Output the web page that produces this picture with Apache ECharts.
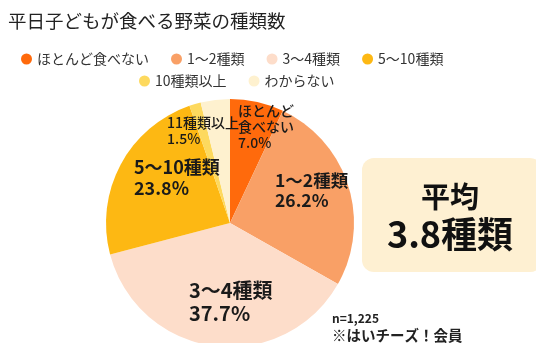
<!DOCTYPE html>
<html>
<head>
<meta charset="utf-8">
<script src="https://cdn.jsdelivr.net/npm/echarts@6/dist/echarts.min.js"></script>
<style>
  html, body { margin: 0; padding: 0; background: #fff; }
  #chart { width: 536px; height: 343px; }
</style>
</head>
<body>
<div id="chart"></div>
<script>
// 平日子どもが食べる野菜の種類数（%）
const categories = ['ほとんど食べない', '1～2種類', '3～4種類', '5～10種類', '10種類以上', 'わからない'];
const sliceLabels = ['ほとんど\n食べない', '1～2種類', '3～4種類', '5～10種類', '11種類以上', ''];
const shares = [7.0, 26.2, 37.7, 23.8, 1.5, 3.8];
const colors = ['#FF6A0C', '#F9A066', '#FDDDCA', '#FDB813', '#FDD95E', '#FEF1CF'];
const averageLines = ['平均', '3.8種類'];
const notes = ['n=1,225', '※はいチーズ！会員'];

const FONT = '"Noto Sans CJK JP", "Noto Sans", sans-serif';

// label styling and placement per slice
const labelStyles = [
  { size: 14, weight: 500, x: 238, y: 127 },
  { size: 17.5, weight: 'bold', x: 275, y: 190 },
  { size: 20, weight: 'bold', x: 189, y: 302 },
  { size: 18, weight: 'bold', x: 134, y: 178 },
  { size: 14, weight: 500, x: 167, y: 131 },
  null
];

const data = categories.map((name, i) => {
  const ls = labelStyles[i];
  return {
    name,
    value: shares[i],
    itemStyle: { color: colors[i] },
    label: ls ? {
      show: true,
      formatter: sliceLabels[i] + '\n' + shares[i].toFixed(1) + '%',
      fontSize: ls.size,
      lineHeight: Math.round(ls.size * 1.15),
      fontWeight: ls.weight,
      color: '#1a1a1a',
      fontFamily: FONT,
      align: 'left'
    } : { show: false }
  };
});

const legendBase = {
  orient: 'horizontal',
  icon: 'circle',
  itemWidth: 11,
  itemHeight: 11,
  itemGap: 22,
  textStyle: { fontSize: 14, color: '#333', fontFamily: FONT }
};

const chart = echarts.init(document.getElementById('chart'), null, { renderer: 'canvas' });
chart.setOption({
  animation: false,
  title: {
    text: '平日子どもが食べる野菜の種類数',
    left: 3,
    top: 7,
    textStyle: { fontSize: 18.5, fontWeight: 'normal', color: '#222', fontFamily: FONT }
  },
  legend: [
    Object.assign({}, legendBase, { data: categories.slice(0, 4), left: 16, top: 47 }),
    Object.assign({}, legendBase, { data: categories.slice(4), left: 134, top: 69 })
  ],
  series: [{
    type: 'pie',
    center: [230, 223],
    radius: [0, 124],
    startAngle: 90,
    clockwise: true,
    avoidLabelOverlap: false,
    label: { position: 'inside' },
    labelLine: { show: false },
    labelLayout: function (params) {
      const ls = labelStyles[params.dataIndex];
      if (!ls) return {};
      return { x: ls.x, y: ls.y, align: 'left', verticalAlign: 'middle' };
    },
    emphasis: { disabled: true },
    itemStyle: { borderWidth: 0 },
    data: data
  }],
  graphic: [
    {
      type: 'rect',
      shape: { x: 362, y: 158, width: 180, height: 114, r: 12 },
      style: { fill: '#FEF0D2' }
    },
    {
      type: 'text',
      x: 450, y: 197,
      style: {
        text: averageLines[0], fontSize: 29, fontWeight: 'bold', fill: '#111',
        fontFamily: FONT, align: 'center', verticalAlign: 'middle'
      }
    },
    {
      type: 'text',
      x: 450, y: 234,
      style: {
        text: averageLines[1], fontSize: 36, fontWeight: 'bold', fill: '#111',
        fontFamily: FONT, align: 'center', verticalAlign: 'middle'
      }
    },
    {
      type: 'text',
      x: 332, y: 318,
      style: {
        text: notes[0], fontSize: 12, fontWeight: 'bold', fill: '#222',
        fontFamily: FONT, align: 'left', verticalAlign: 'middle'
      }
    },
    {
      type: 'text',
      x: 332, y: 335,
      style: {
        text: notes[1], fontSize: 14.5, fontWeight: 'bold', fill: '#222',
        fontFamily: FONT, align: 'left', verticalAlign: 'middle'
      }
    }
  ]
});
</script>
</body>
</html>
